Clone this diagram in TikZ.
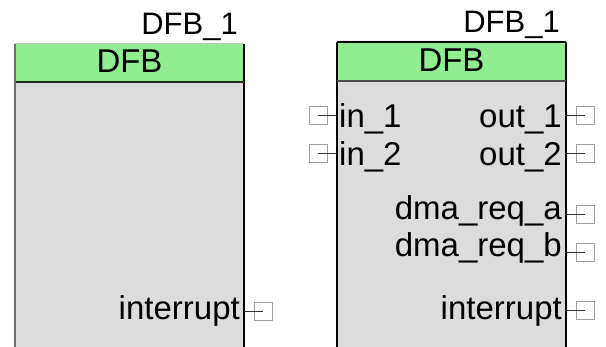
\documentclass[tikz,border=0pt]{standalone}
\usepackage{fontspec}
\setmainfont{Liberation Sans}
\definecolor{hdrgreen}{HTML}{90EE90}
\definecolor{bodygray}{HTML}{DCDCDC}
\definecolor{portgray}{HTML}{A0A0A0}
\definecolor{edgegray}{HTML}{707070}
\begin{document}
\begin{tikzpicture}[x=1pt,y=-1pt,
  lbl/.style={font=\fontsize{31}{36}\selectfont, inner sep=0pt},
  pinlbl/.style={font=\fontsize{33}{38}\selectfont, inner sep=0pt},
  portbox/.style={draw=portgray, line width=1pt, minimum width=18pt, minimum height=18pt, inner sep=0pt},
  portline/.style={draw=black!80, line width=1pt},
  boxedge/.style={draw=black, line width=1.3pt}]
\useasboundingbox (0,0) rectangle (606,347);
% ---------- left block ----------
\fill[bodygray] (15,82) rectangle (244,348);
\fill[hdrgreen] (15,44) rectangle (244,82);
\draw[draw=black!25, line width=1pt] (15,44) -- (244,44);
\draw[boxedge] (244,44) -- (244,348);
\draw[boxedge, draw=black!85] (15,82) -- (244,82);
\draw[draw=edgegray, line width=2pt] (15,44) -- (15,348);
\node[lbl, anchor=base east] (ltitle) at (238,35) {DFB\_1};
\node[pinlbl, anchor=base] (lhdr) at (129.5,73) {DFB};
\node[pinlbl, anchor=base east] (lint) at (240,320) {interrupt};
\node[portbox] (plint) at (263,312) {};
\coordinate (elint) at (244,312);
\draw[portline] (elint) -- (plint.center);
% ---------- right block ----------
\fill[bodygray] (337,81) rectangle (566,348);
\fill[hdrgreen] (337,42) rectangle (566,81);
\draw[boxedge] (337,42) -- (566,42);
\draw[boxedge] (337,42) -- (337,348);
\draw[boxedge] (566,42) -- (566,348);
\draw[boxedge, draw=black!70] (337,81) -- (566,81);
\node[lbl, anchor=base east] (rtitle) at (560,33) {DFB\_1};
\node[pinlbl, anchor=base] (rhdr) at (451.5,72) {DFB};
% inputs
\node[pinlbl, anchor=base west] (in1) at (339,128) {in\_1};
\node[pinlbl, anchor=base west] (in2) at (339,166) {in\_2};
\node[portbox] (pin1) at (318,116) {};
\node[portbox] (pin2) at (318,154) {};
\coordinate (ein1) at (337,116);
\coordinate (ein2) at (337,154);
\draw[portline] (pin1.center) -- (ein1);
\draw[portline] (pin2.center) -- (ein2);
% outputs
\node[pinlbl, anchor=base east] (out1) at (562,128) {out\_1};
\node[pinlbl, anchor=base east] (out2) at (562,166) {out\_2};
\node[pinlbl, anchor=base east] (dmaa) at (562,220) {dma\_req\_a};
\node[pinlbl, anchor=base east] (dmab) at (562,257) {dma\_req\_b};
\node[pinlbl, anchor=base east] (rint) at (562,320) {interrupt};
\node[portbox] (pout1) at (585,116) {};
\node[portbox] (pout2) at (585,154) {};
\node[portbox] (pdmaa) at (585,215) {};
\node[portbox] (pdmab) at (585,253) {};
\node[portbox] (print) at (585,311) {};
\coordinate (eout1) at (566,116);
\coordinate (eout2) at (566,154);
\coordinate (edmaa) at (566,215);
\coordinate (edmab) at (566,253);
\coordinate (erint) at (566,311);
\draw[portline] (eout1) -- (pout1.center);
\draw[portline] (eout2) -- (pout2.center);
\draw[portline] (edmaa) -- (pdmaa.center);
\draw[portline] (edmab) -- (pdmab.center);
\draw[portline] (erint) -- (print.center);
\end{tikzpicture}
\end{document}
